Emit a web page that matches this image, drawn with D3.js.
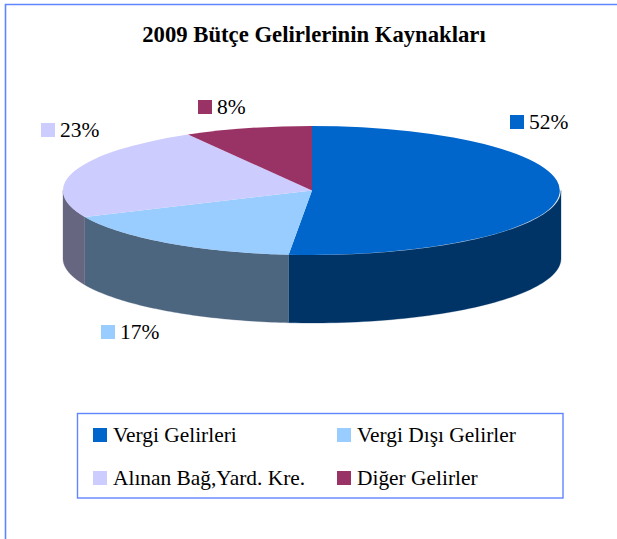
<!DOCTYPE html>
<html><head><meta charset="utf-8">
<script src="https://cdnjs.cloudflare.com/ajax/libs/d3/7.8.5/d3.min.js"></script>
<style>html,body{margin:0;padding:0;background:#fff}svg{display:block}text{font-family:"Liberation Serif",serif;fill:#000}</style>
</head><body><svg width="617" height="539"></svg>
<script>
const title = "2009 Bütçe Gelirlerinin Kaynakları";
const categories = ["Vergi Gelirleri","Vergi Dışı Gelirler","Alınan Bağ,Yard. Kre.","Diğer Gelirler"];
const shares = [51.5,16.8,23.4,8.3];
const topColors = ["#0066cc","#99ccff","#ccccff","#993366"];
const sideColors = ["#003366","#4d6680","#666680","#4d1a33"];

const svg = d3.select("svg");
const cx=312,cy=190.5,rx=249,ry=64.5,depth=68;
const frame="#5f85ff";

svg.append("path").attr("d","M5.5,539V4.5H617").attr("fill","none").attr("stroke",frame).attr("stroke-width",1.6);

svg.append("text").attr("x",314).attr("y",42).attr("text-anchor","middle")
  .attr("font-size",22.7).attr("font-weight","bold").text(title);

const pie=d3.pie().sort(null).value(d=>d)(shares);
const px=a=>cx+rx*Math.sin(a), py=a=>cy-ry*Math.cos(a);
const wallLine=d3.line();
pie.forEach((s,i)=>{
  const a0=Math.max(s.startAngle,Math.PI/2), a1=Math.min(s.endAngle,1.5*Math.PI);
  if(a1<=a0) return;
  const ang=d3.range(0,61).map(k=>a0+(a1-a0)*k/60);
  const pts=ang.map(a=>[px(a),py(a)]).concat(ang.slice().reverse().map(a=>[px(a),py(a)+depth]));
  svg.append("path").attr("d",wallLine(pts)+"Z").attr("fill",sideColors[i]).attr("stroke",sideColors[i]).attr("stroke-width",.3);
});
const arc=d3.arc().innerRadius(0).outerRadius(1);
svg.append("g").selectAll("path").data(pie).join("path")
  .attr("transform",`translate(${cx},${cy}) scale(${rx},${ry})`)
  .attr("d",arc).attr("fill",(d,i)=>topColors[i]);

const labelAnchors=[[510,115],[101,325],[41,123],[198,100]];
const lab=svg.append("g").selectAll("g").data(shares).join("g")
  .attr("transform",(d,i)=>`translate(${labelAnchors[i]})`);
lab.append("rect").attr("width",14).attr("height",14).attr("fill",(d,i)=>topColors[i]);
lab.append("text").attr("x",19).attr("y",14).attr("font-size",21.5).text(d=>Math.round(d)+"%");

svg.append("rect").attr("x",77.5).attr("y",413.5).attr("width",485.5).attr("height",84.5).attr("fill","#fff").attr("stroke",frame).attr("stroke-width",1.4);
const legendPos=[[93,428],[337,428],[93,471],[337,471]];
const leg=svg.append("g").selectAll("g").data(categories).join("g")
  .attr("transform",(d,i)=>`translate(${legendPos[i]})`);
leg.append("rect").attr("width",14).attr("height",14).attr("fill",(d,i)=>topColors[i]);
leg.append("text").attr("x",20).attr("y",14).attr("font-size",21.4).text(d=>d);
</script></body></html>
